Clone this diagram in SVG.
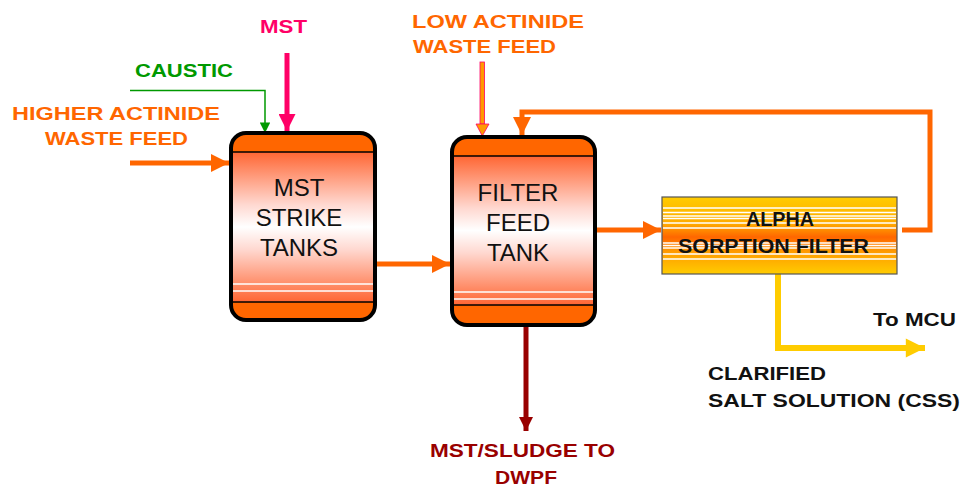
<svg xmlns="http://www.w3.org/2000/svg" width="963" height="489" viewBox="0 0 963 489">
<style>
.lbl{font-family:"Comic Sans MS","Liberation Sans",Arial,sans-serif;font-weight:bold;font-size:19px}
.tank{font-family:"Liberation Sans",Arial,sans-serif;font-size:24px;fill:#111;text-anchor:middle}
.flt{font-family:"Liberation Sans",Arial,sans-serif;font-weight:bold;font-size:21px;fill:#111}
.shell{fill:#FF6600;stroke:#000;stroke-width:4}
.band{stroke:#000;stroke-width:1.5}
.wl{stroke:#fff;stroke-width:1.3}
.or{stroke:#FF6600;stroke-width:5;fill:none}
</style>
<defs>
<linearGradient id="tg" x1="0" y1="0" x2="0" y2="1">
<stop offset="0" stop-color="#FF6633"/>
<stop offset="0.35" stop-color="#FFD8D0"/>
<stop offset="0.5" stop-color="#FFFFFF"/>
<stop offset="0.65" stop-color="#FFD8D0"/>
<stop offset="1" stop-color="#FF6633"/>
</linearGradient>
<linearGradient id="fg" x1="0" y1="0" x2="0" y2="1">
<stop offset="0" stop-color="#FFCC00"/>
<stop offset="0.35" stop-color="#FFAA00"/>
<stop offset="0.52" stop-color="#FF6600"/>
<stop offset="0.7" stop-color="#FF9900"/>
<stop offset="1" stop-color="#FFCC00"/>
</linearGradient>
<marker id="aO" viewBox="0 0 10 10" refX="10" refY="5" markerWidth="4.4" markerHeight="3.6" orient="auto" markerUnits="strokeWidth"><path d="M0,0L10,5L0,10z" fill="#FF6600"/></marker>
<marker id="aG" viewBox="0 0 10 10" refX="10" refY="5" markerWidth="9" markerHeight="7" orient="auto" markerUnits="strokeWidth"><path d="M0,0L10,5L0,10z" fill="#009900"/></marker>
<marker id="aP" viewBox="0 0 10 10" refX="10" refY="5" markerWidth="4" markerHeight="3.4" orient="auto" markerUnits="strokeWidth"><path d="M0,0L10,5L0,10z" fill="#FF0066"/></marker>
<marker id="aB" viewBox="0 0 10 10" refX="10" refY="5" markerWidth="3.2" markerHeight="2.8" orient="auto" markerUnits="strokeWidth"><path d="M0,0L10,5L0,10z" fill="#990000"/></marker>
<marker id="aY" viewBox="0 0 10 10" refX="10" refY="5" markerWidth="3.6" markerHeight="3.2" orient="auto" markerUnits="strokeWidth"><path d="M0,0L10,5L0,10z" fill="#FFCC00"/></marker>
</defs>

<g id="connectors">
<line x1="130" y1="163" x2="229" y2="163" class="or" marker-end="url(#aO)"/>
<polyline points="130,90.5 265,90.5 265,133" fill="none" stroke="#009900" stroke-width="1.5" marker-end="url(#aG)"/>
<line x1="287" y1="53" x2="287" y2="131" stroke="#FF0066" stroke-width="5" marker-end="url(#aP)"/>
<line x1="376" y1="264" x2="450" y2="264" class="or" marker-end="url(#aO)"/>
<g id="low-feed-arrow">
<rect x="480" y="62" width="4.5" height="62" fill="#FF9900" stroke="#FF0066" stroke-width="0.8"/>
<path d="M476,124 L489,124 L482.3,136 Z" fill="#FF9900" stroke="#FF0066" stroke-width="0.8"/>
</g>
<polyline points="902,230 930,230 930,112 522,112 522,135" class="or" marker-end="url(#aO)"/>
<line x1="596" y1="230" x2="661" y2="230" class="or" marker-end="url(#aO)"/>
<line x1="526" y1="326" x2="526" y2="431" stroke="#990000" stroke-width="5" marker-end="url(#aB)"/>
<polyline points="778,274 778,348 925,348" fill="none" stroke="#FFCC00" stroke-width="6" marker-end="url(#aY)"/>
</g>

<g id="mst-strike-tanks">
<rect x="231" y="133" width="144" height="187" rx="15" class="shell"/>
<rect x="233" y="152" width="140" height="150" fill="url(#tg)"/>
<line x1="233" y1="152" x2="373" y2="152" class="band"/>
<line x1="233" y1="302" x2="373" y2="302" class="band"/>
<line x1="233" y1="284" x2="373" y2="284" class="wl"/>
<line x1="233" y1="291" x2="373" y2="291" class="wl"/>
<text class="tank" x="299" y="196">MST</text>
<text class="tank" x="299" y="226">STRIKE</text>
<text class="tank" x="299" y="256">TANKS</text>
</g>

<g id="filter-feed-tank">
<rect x="452" y="137" width="143" height="188" rx="15" class="shell"/>
<rect x="454" y="156" width="139" height="149" fill="url(#tg)"/>
<line x1="454" y1="156" x2="593" y2="156" class="band"/>
<line x1="454" y1="305" x2="593" y2="305" class="band"/>
<line x1="454" y1="292" x2="593" y2="292" class="wl"/>
<line x1="454" y1="299" x2="593" y2="299" class="wl"/>
<text class="tank" x="518" y="201">FILTER</text>
<text class="tank" x="518" y="231">FEED</text>
<text class="tank" x="518" y="261">TANK</text>
</g>

<g id="alpha-sorption-filter">
<rect x="662" y="197" width="235" height="77" fill="url(#fg)" stroke="#555" stroke-width="1.2"/>
<g class="wl" stroke-width="1">
<line x1="663" y1="208" x2="896" y2="208"/>
<line x1="663" y1="212.5" x2="896" y2="212.5"/>
<line x1="663" y1="216" x2="896" y2="216"/>
<line x1="663" y1="218.5" x2="896" y2="218.5"/>
<line x1="663" y1="223" x2="896" y2="223"/>
<line x1="663" y1="228" x2="896" y2="228"/>
<line x1="663" y1="243" x2="896" y2="243"/>
<line x1="663" y1="245.5" x2="896" y2="245.5"/>
<line x1="663" y1="248" x2="896" y2="248"/>
<line x1="663" y1="254" x2="896" y2="254"/>
<line x1="663" y1="259" x2="896" y2="259"/>
</g>
<text class="flt" x="746" y="226" textLength="68" lengthAdjust="spacingAndGlyphs">ALPHA</text>
<text class="flt" x="678" y="253" textLength="191" lengthAdjust="spacingAndGlyphs">SORPTION FILTER</text>
</g>

<g id="labels">
<text class="lbl" x="260" y="33" fill="#FF0066" textLength="47" lengthAdjust="spacingAndGlyphs">MST</text>
<text class="lbl" x="135" y="77" fill="#009900" textLength="98" lengthAdjust="spacingAndGlyphs">CAUSTIC</text>
<text class="lbl" x="12" y="120" fill="#FF6600" textLength="208" lengthAdjust="spacingAndGlyphs">HIGHER ACTINIDE</text>
<text class="lbl" x="45" y="145" fill="#FF6600" textLength="143" lengthAdjust="spacingAndGlyphs">WASTE FEED</text>
<text class="lbl" x="412" y="28" fill="#FF6600" textLength="172" lengthAdjust="spacingAndGlyphs">LOW ACTINIDE</text>
<text class="lbl" x="413" y="53" fill="#FF6600" textLength="143" lengthAdjust="spacingAndGlyphs">WASTE FEED</text>
<text class="lbl" x="873" y="326" fill="#111" textLength="83" lengthAdjust="spacingAndGlyphs">To MCU</text>
<text class="lbl" x="708" y="380" fill="#111" textLength="118" lengthAdjust="spacingAndGlyphs">CLARIFIED</text>
<text class="lbl" x="708" y="407" fill="#111" textLength="252" lengthAdjust="spacingAndGlyphs">SALT SOLUTION (CSS)</text>
<text class="lbl" x="430" y="457" fill="#990000" textLength="185" lengthAdjust="spacingAndGlyphs">MST/SLUDGE TO</text>
<text class="lbl" x="495" y="484" fill="#990000" textLength="62" lengthAdjust="spacingAndGlyphs">DWPF</text>
</g>
</svg>
